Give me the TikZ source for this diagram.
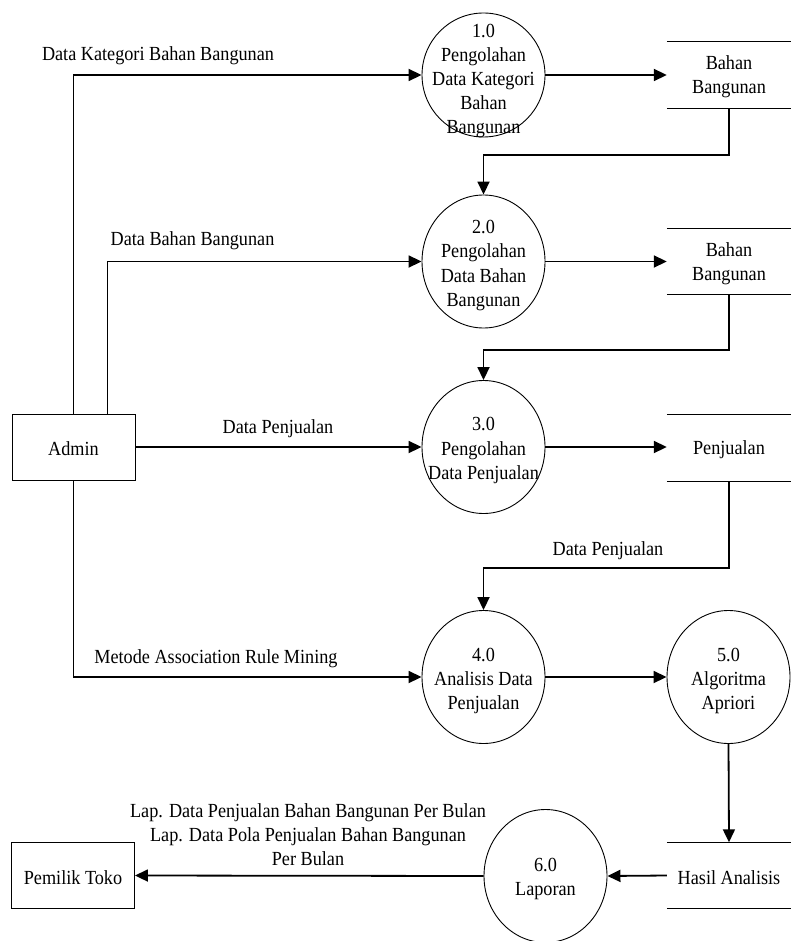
\documentclass[tikz,border=0pt]{standalone}
\usepackage{fontspec}
\setmainfont{Liberation Serif}[FakeStretch=0.91]
\usetikzlibrary{arrows.meta,shapes.geometric,calc}

\tikzset{
  proc/.style={ellipse, draw, line width=0.9pt, minimum width=123pt, minimum height=133pt,
               inner sep=0pt},
  proctext/.style={inner sep=0pt, align=center},
  entity/.style={rectangle, draw, line width=0.9pt, minimum width=123pt, minimum height=66pt,
                 inner sep=0pt},
  store/.style={rectangle, minimum width=124pt, minimum height=66pt, inner sep=0pt},
  boxtext/.style={inner sep=0pt, align=center, yshift=-2pt},
  storeline/.style={line width=1.1pt},
  flow/.style={line width=1.8pt, -{Triangle[length=13pt,width=12pt]}},
  lbl/.style={inner sep=0pt, align=center},
}

\begin{document}
\begin{tikzpicture}[x=1pt, y=-1pt, font=\fontsize{20}{24.2}\selectfont]
\useasboundingbox (0,0) rectangle (792,941);

% external entities
\node[entity] (admin) at (73.5,447) {};
\node[entity] (owner) at (73,875.5) {};
\node[boxtext] (ta) at (admin.center) {Admin};
\node[boxtext] (to) at (owner.center) {Pemilik Toko};

% processes: fixed-size bubbles, text set on top
\node[proc, minimum height=124pt] (p1) at (483.5,75) {};
\node[proc] (p2) at (483.5,261.5) {};
\node[proc] (p3) at (483.5,447)   {};
\node[proc] (p4) at (483.5,677)   {};
\node[proc] (p5) at (728.5,677)   {};
\node[proc] (p6) at (545.5,876)   {};
\node[proctext, yshift=-6pt] (t1) at (p1.center) {1.0\\Pengolahan\\Data Kategori\\Bahan\\Bangunan};
\node[proctext, yshift=-4pt] (t2) at (p2.center) {2.0\\Pengolahan\\Data Bahan\\Bangunan};
\node[proctext, yshift=-3.5pt] (t3) at (p3.center) {3.0\\Pengolahan\\Data Penjualan};
\node[proctext, yshift=-4pt] (t4) at (p4.center) {4.0\\Analisis Data\\Penjualan};
\node[proctext, yshift=-4pt] (t5) at (p5.center) {5.0\\Algoritma\\Apriori};
\node[proctext, yshift=-3pt] (t6) at (p6.center) {6.0\\Laporan};

% data stores
\node[store] (s1) at (729,75)    {};
\node[store] (s2) at (729,261.5) {};
\node[store] (s3) at (729,448)   {};
\node[store] (s4) at (729,875.5) {};
\node[boxtext] (u1) at (s1.center) {Bahan\\Bangunan};
\node[boxtext] (u2) at (s2.center) {Bahan\\Bangunan};
\node[boxtext] (u3) at (s3.center) {Penjualan};
\node[boxtext] (u4) at (s4.center) {Hasil Analisis};
\foreach \s in {s1,s2,s3,s4}{
  \draw[storeline] (\s.north west) -- (\s.north east);
  \draw[storeline] (\s.south west) -- (\s.south east);
}

% flows from the admin
\draw[flow] (admin.north) |- (p1.west);
\draw[flow] ([xshift=34pt]admin.north) |- (p2.west);
\draw[flow] (admin.east) -- (admin.east -| p3.west);
\draw[flow] (admin.south) |- (p4.west);

% processes to stores
\draw[flow] (p1.east) -- (s1.west);
\draw[flow] (p2.east) -- (s2.west);
\draw[flow] (p3.east) -- (p3.east -| s3.west);
\draw[flow] (p4.east) -- (p5.west);

% stores feeding the next process
\draw[flow] (s1.south) -- ++(0,47) -| (p2.north);
\draw[flow] (s2.south) -- ++(0,55) -| (p3.north);
\draw[flow] (s3.south) -- ++(0,87) -| (p4.north);

% results and report
\draw[flow] (p5.south) -- (s4.north);
\draw[flow] (s4.west) -- (p6.east);
\draw[flow] (p6.west) -- (owner.east);

% flow labels
\node[lbl] (l1) at (158,55.5)  {Data Kategori Bahan Bangunan};
\node[lbl] (l2) at (192.5,240.5) {Data Bahan Bangunan};
\node[lbl] (l3) at (278,429)   {Data Penjualan};
\node[lbl] (l4) at (608,551)   {Data Penjualan};
\node[lbl] (l5) at (216,659)   {Metode Association Rule Mining};
\node[lbl] (l6) at (308,834.5) {Lap. Data Penjualan Bahan Bangunan Per Bulan\\
                                Lap. Data Pola Penjualan Bahan Bangunan\\Per Bulan};
\end{tikzpicture}
\end{document}
